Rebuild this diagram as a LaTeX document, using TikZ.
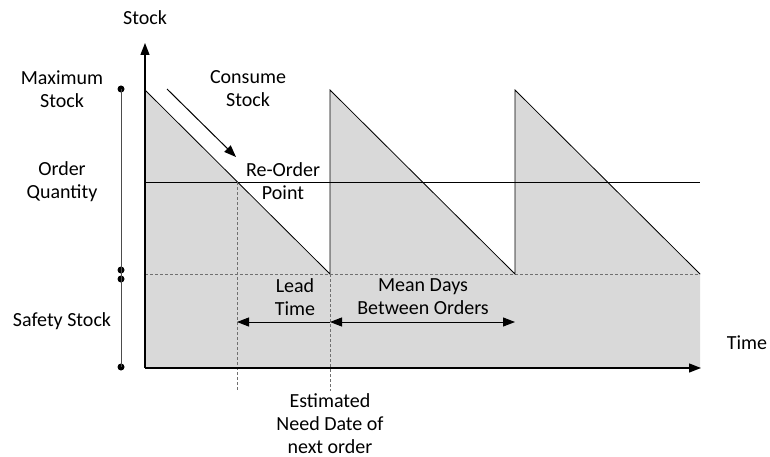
\documentclass[tikz,border=0pt]{standalone}
\usepackage{fontspec}
\setmainfont{Carlito}
\usetikzlibrary{arrows.meta}
\definecolor{fillgray}{HTML}{D9D9D9}
\definecolor{dashgray}{HTML}{707070}
\begin{document}
\begin{tikzpicture}[x=1pt,y=-1pt,
  lbl/.style={align=center,font=\fontsize{20}{23}\selectfont,inner sep=0pt},
  axis/.style={line width=1.3pt,-{Triangle[length=12pt,width=9pt]}},
  thin/.style={line width=0.8pt},
  guide/.style={line width=0.8pt,dashgray,dash pattern=on 3pt off 2pt},
  dimarrow/.style={line width=1pt,-{Triangle[length=12pt,width=9pt]}},
  dot/.style={circle,fill=black,inner sep=0pt,minimum size=7pt}]
\useasboundingbox (0,0) rectangle (770,457);

% named reference points
\coordinate (origin) at (145,368);
\coordinate (ytip) at (145,43);
\coordinate (xtip) at (701,368);
\coordinate (p0) at (145,90);
\coordinate (b1) at (330,274);
\coordinate (t1) at (330,90);
\coordinate (b2) at (515,274);
\coordinate (t2) at (515,90);
\coordinate (b3) at (700,274);
\coordinate (br) at (700,368);
\coordinate (rl) at (145,182);
\coordinate (rr) at (700,182);
\coordinate (sl) at (145,274);
\coordinate (rop) at (237,182);
\coordinate (ropb) at (237,391);
\coordinate (need) at (330,391);

% stock area under the sawtooth
\fill[fillgray] (origin) -- (p0) -- (b1) -- (t1) -- (b2) -- (t2) -- (b3) -- (br) -- cycle;

% re-order level and safety stock level
\draw[thin] (rl) -- (rr);
\draw[guide] (sl) -- (b3);

% sawtooth stock curve
\draw[thin] (p0) -- (b1) -- (t1) -- (b2) -- (t2) -- (b3);

% guide lines down to the time axis
\draw[guide] (rop) -- (ropb);
\draw[guide] (b1) -- (need);

% axes
\draw[axis] (origin) -- (ytip);
\draw[axis] (origin) -- (xtip);

% consumption arrow
\coordinate (c0) at (167,89);
\coordinate (c1) at (236,157);
\draw[dimarrow] (c0) -- (c1);

% lead time and order interval arrows
\coordinate (lt0) at (330,322);
\coordinate (lt1) at (237,322);
\coordinate (md1) at (515,322);
\draw[dimarrow] (lt0) -- (lt1);
\draw[dimarrow,{Triangle[length=12pt,width=9pt]}-{Triangle[length=12pt,width=9pt]}] (lt0) -- (md1);

% stock level bracket
\node[dot] (d1) at (121,89) {};
\node[dot] (d2) at (121,270) {};
\node[dot] (d3) at (121,279) {};
\node[dot] (d4) at (121,367) {};
\draw[line width=1pt,black!70] (d1.center) -- (d4.center);

% labels
\node[lbl] (stock) at (145,18) {Stock};
\node[lbl] (time) at (747,343) {Time};
\node[lbl] (maxs) at (62,89) {Maximum\\Stock};
\node[lbl] (oq) at (62,182) {Order\\Quantity};
\node[lbl] (ss) at (62,321) {Safety Stock};
\node[lbl] (cs) at (248,89) {Consume\\Stock};
\node[lbl] (rp) at (283,181) {Re-Order\\Point};
\node[lbl] (lt) at (295,297) {Lead\\Time};
\node[lbl] (md) at (423,297) {Mean Days\\Between Orders};
\node[lbl] (ed) at (330,424) {Estimated\\Need Date of\\next order};
\end{tikzpicture}
\end{document}
